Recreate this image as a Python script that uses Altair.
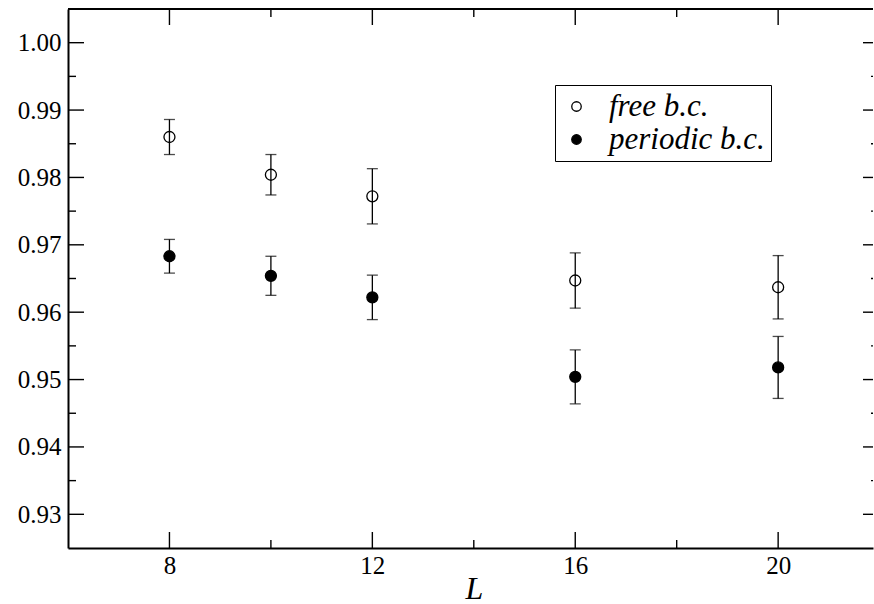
import altair as alt
import pandas as pd

# ---- data ----
L_vals = [8, 10, 12, 16, 20]
free_vals = [0.9860, 0.9804, 0.9772, 0.9647, 0.9637]
free_err = [0.0026, 0.0030, 0.0041, 0.0041, 0.0047]
per_vals = [0.9683, 0.9654, 0.9622, 0.9504, 0.9518]
per_err = [0.0025, 0.0029, 0.0033, 0.0040, 0.0046]
series_names = ["free b.c.", "periodic b.c."]

x_major = [8, 12, 16, 20]
x_minor = [10, 14, 18]
y_major = [0.93, 0.94, 0.95, 0.96, 0.97, 0.98, 0.99, 1.00]
y_minor = [0.935, 0.945, 0.955, 0.965, 0.975, 0.985, 0.995]

W, H = 805, 539
FONT = "Liberation Serif"

rows = []
for name, vals, errs in [(series_names[0], free_vals, free_err), (series_names[1], per_vals, per_err)]:
    for L, v, e in zip(L_vals, vals, errs):
        rows.append({"L": L, "v": v, "lo": v - e, "hi": v + e, "series": name})
df = pd.DataFrame(rows)

xscale = alt.Scale(domain=[6, 21.87], nice=False, zero=False)
yscale = alt.Scale(domain=[0.925, 1.005], nice=False, zero=False)

x_axis = alt.Axis(values=x_major, ticks=False, grid=False, labelPadding=5,
                  labelFont=FONT, labelFontSize=25, labelColor="black",
                  domainColor="black", domainWidth=2,
                  title="L", titleFont=FONT, titleFontSize=32, titleColor="black",
                  titleFontStyle="italic", titleFontWeight="normal",
                  titleX=406, titleY=50, titleAlign="center", titleBaseline="alphabetic")
y_axis = alt.Axis(values=y_major, format=".2f", ticks=False, grid=False,
                  labelFont=FONT, labelFontSize=25, labelColor="black",
                  labelPadding=7, domainColor="black", domainWidth=2, title=None)

base = alt.Chart(df)

bars = base.mark_rule(color="black", strokeWidth=1.3).encode(
    x=alt.X("L:Q", scale=xscale, axis=x_axis),
    y=alt.Y("lo:Q", scale=yscale, axis=y_axis),
    y2="hi:Q",
)
cap_lo = base.mark_tick(color="black", orient="horizontal", size=11, thickness=1.3).encode(
    x=alt.X("L:Q", scale=xscale, axis=x_axis),
    y=alt.Y("lo:Q", scale=yscale, axis=y_axis),
)
cap_hi = base.mark_tick(color="black", orient="horizontal", size=11, thickness=1.3).encode(
    x=alt.X("L:Q", scale=xscale, axis=x_axis),
    y=alt.Y("hi:Q", scale=yscale, axis=y_axis),
)

points = base.mark_point(shape="circle", filled=True, stroke="black", strokeWidth=1.3,
                         size=121, opacity=1, fillOpacity=1).encode(
    x=alt.X("L:Q", scale=xscale, axis=x_axis),
    y=alt.Y("v:Q", scale=yscale, axis=y_axis),
    fill=alt.Fill("series:N", scale=alt.Scale(domain=series_names, range=["white", "black"]),
                  legend=alt.Legend(title=None, orient="none", legendX=487, legendY=76,
                                    labelFont=FONT, labelFontSize=31, labelColor="black",
                                    labelFontStyle="italic", labelOffset=17,
                                    symbolType="circle", symbolSize=90, symbolStrokeColor="black",
                                    symbolStrokeWidth=1.3, symbolOffset=0,
                                    strokeColor="black", fillColor="white", padding=6,
                                    rowPadding=1, labelLimit=400)),
)

ymaj_df = pd.DataFrame({"t": y_major})
ymin_df = pd.DataFrame({"t": y_minor})
xmaj_df = pd.DataFrame({"t": x_major})
xmin_df = pd.DataFrame({"t": x_minor})

def ytick(d, x0, x1):
    return alt.Chart(d).mark_rule(color="black", strokeWidth=1.4).encode(
        y=alt.Y("t:Q", scale=yscale, axis=y_axis), x=alt.value(x0), x2=alt.value(x1))

def xtick(d, y0, y1):
    return alt.Chart(d).mark_rule(color="black", strokeWidth=1.4).encode(
        x=alt.X("t:Q", scale=xscale, axis=x_axis), y=alt.value(y0), y2=alt.value(y1))

ticks = [
    ytick(ymaj_df, 0, 16), ytick(ymin_df, 0, 8),
    ytick(ymaj_df, W - 10, W), ytick(ymin_df, W - 2, W),
    xtick(xmaj_df, H - 16, H), xtick(xmin_df, H - 8, H),
    xtick(xmaj_df, 0, 16), xtick(xmin_df, 0, 8),
]

top_frame = alt.Chart(pd.DataFrame({"a": [0]})).mark_rule(color="black", strokeWidth=2).encode(
    x=alt.value(0), x2=alt.value(W), y=alt.value(0))

chart = alt.layer(points, bars, cap_lo, cap_hi, top_frame, *ticks).properties(
    width=W, height=H,
    autosize=alt.AutoSizeParams(type="none"),
    padding={"left": 68, "top": 9, "right": 1, "bottom": 56},
    background="white",
).configure_view(strokeWidth=0)

chart.save("out.html", embed_options={"renderer": "svg", "actions": False})
